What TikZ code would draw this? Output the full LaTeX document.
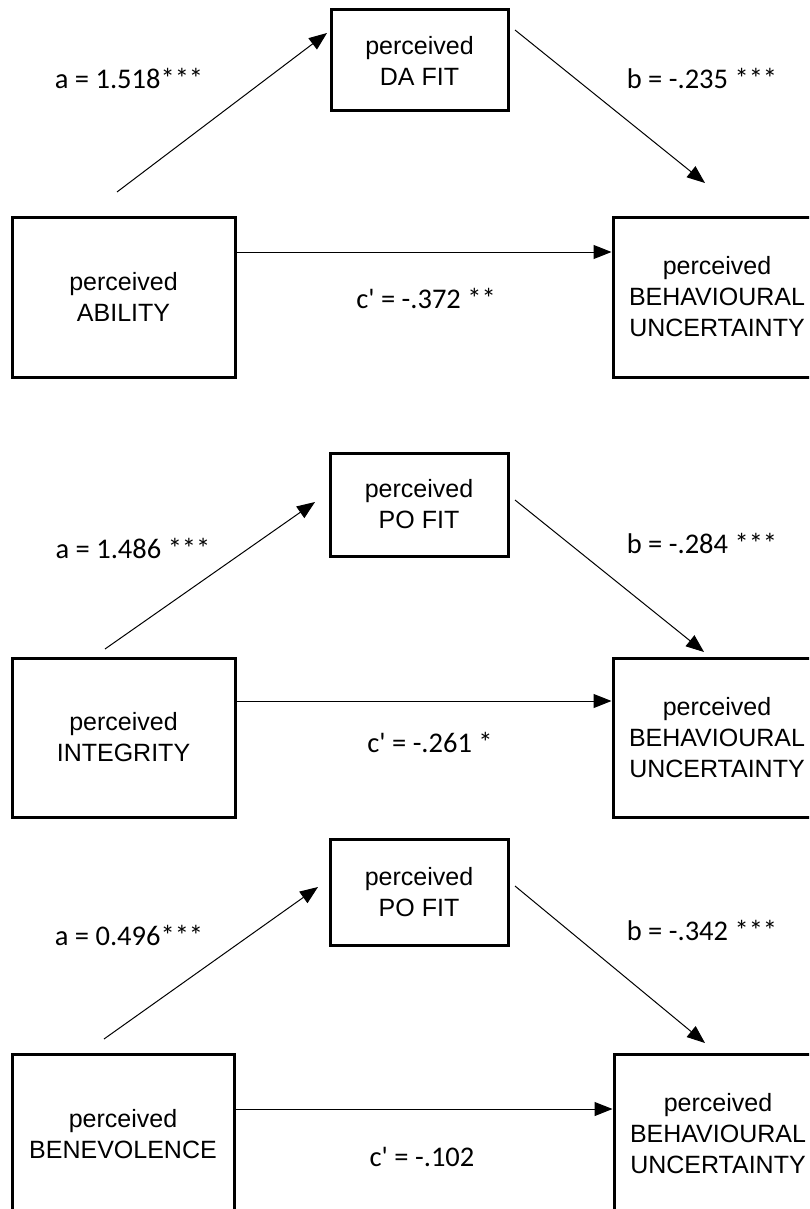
\documentclass[tikz,border=0pt]{standalone}
\usepackage{fontspec}
\setmainfont{Liberation Sans}
\newfontfamily\coefffont{Carlito}
\usetikzlibrary{arrows.meta}

\begin{document}
\begin{tikzpicture}[x=1pt,y=-1pt]

\tikzset{costrutto/.style={rectangle,draw,line width=3pt,inner sep=0pt,align=center,font=\fontsize{25}{31}\selectfont},}
\tikzset{coeff/.style={inner sep=0pt,font=\coefffont\fontsize{28.5}{32}\selectfont},}
\tikzset{freccia/.style={-{Triangle[length=18pt,width=14pt]},line width=1pt}}

\useasboundingbox (0,0) rectangle (809,1209);
\clip (0,0) rectangle (809,1209);

% ability
\draw
	(419.5,60.5) node[costrutto,minimum width=177,minimum height=101] (m1) {perceived\\DA FIT}
	(123.5,297) node[costrutto,minimum width=223,minimum height=160] (x1) {perceived\\ABILITY}
	(717,297) node[costrutto,minimum width=208,minimum height=160] (y1) {perceived\\BEHAVIOURAL\\UNCERTAINTY}
	(129,78) node[coeff] (a1) {a = 1.518***}
	(702,78) node[coeff] (b1) {b = -.235 ***}
	(426,298) node[coeff] (c1) {c' = -.372 **}
;
\coordinate (a1s) at (117,192); \coordinate (a1e) at (327,33);
\coordinate (b1s) at (515,30); \coordinate (b1e) at (705,183);
\draw[freccia] (a1s) -- (a1e);
\draw[freccia] (b1s) -- (b1e);
\draw[freccia] ([yshift=45]x1.east) -- ([yshift=45]y1.west);

% integrity
\draw
	(419,504.5) node[costrutto,minimum width=178,minimum height=103] (m2) {perceived\\PO FIT}
	(123.5,737.5) node[costrutto,minimum width=223,minimum height=159] (x2) {perceived\\INTEGRITY}
	(717,737.5) node[costrutto,minimum width=208,minimum height=159] (y2) {perceived\\BEHAVIOURAL\\UNCERTAINTY}
	(133,548) node[coeff] (a2) {a = 1.486 ***}
	(702,543) node[coeff] (b2) {b = -.284 ***}
	(430,742) node[coeff] (c2) {c' = -.261 *}
;
\coordinate (a2s) at (105,649); \coordinate (a2e) at (315,502);
\coordinate (b2s) at (515,500); \coordinate (b2e) at (704,652);
\draw[freccia] (a2s) -- (a2e);
\draw[freccia] (b2s) -- (b2e);
\draw[freccia] ([yshift=36.5]x2.east) -- ([yshift=36.5]y2.west);

% benevolence
\draw
	(419,892) node[costrutto,minimum width=178,minimum height=106] (m3) {perceived\\PO FIT}
	(123,1134) node[costrutto,minimum width=222,minimum height=160] (x3) {perceived\\BENEVOLENCE}
	(718,1134) node[costrutto,minimum width=208,minimum height=160] (y3) {perceived\\BEHAVIOURAL\\UNCERTAINTY}
	(129,935) node[coeff] (a3) {a = 0.496***}
	(702,930) node[coeff] (b3) {b = -.342 ***}
	(422,1157) node[coeff] (c3) {c' = -.102}
;
\coordinate (a3s) at (104,1039); \coordinate (a3e) at (318,887);
\coordinate (b3s) at (515,886); \coordinate (b3e) at (705,1043);
\draw[freccia] (a3s) -- (a3e);
\draw[freccia] (b3s) -- (b3e);
\draw[freccia] ([yshift=25]x3.east) -- ([yshift=25]y3.west);

\end{tikzpicture}
\end{document}
